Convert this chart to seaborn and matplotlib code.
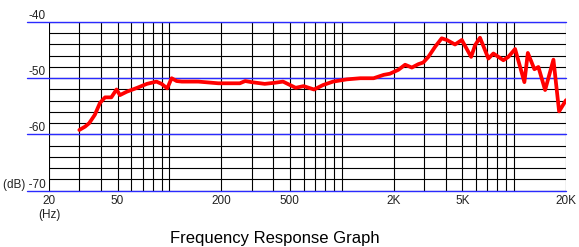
import matplotlib
matplotlib.use("Agg")
import matplotlib.pyplot as plt
import matplotlib.ticker as mticker
import seaborn as sns
import numpy as np

# frequency response (Hz, dB)
freq = [30, 32.4, 34.2, 36.9, 39.5, 42.3, 46, 49.3, 51.6, 56.5, 65, 74, 84, 90, 97,
        103, 110, 118, 147, 192, 256, 275, 300, 357, 410, 456, 540, 600, 690, 780,
        890, 1070, 1280, 1530, 1750, 1900, 2130, 2330, 2550, 2780, 2970, 3180, 3480,
        3800, 4070, 4540, 4970, 5630, 5940, 6340, 7090, 7580, 8660, 9260, 10130,
        11470, 12010, 13110, 13830, 15130, 16910, 18240, 20000]
db = [-59.2, -58.6, -58.0, -56.5, -54.4, -53.4, -53.4, -52.0, -53.0, -52.4, -51.7,
      -51.0, -50.6, -51.0, -51.8, -50.0, -50.5, -50.6, -50.6, -50.9, -50.9, -50.5,
      -50.7, -51.0, -50.8, -50.6, -51.7, -51.4, -52.0, -51.2, -50.6, -50.2, -50.0,
      -50.0, -49.4, -49.2, -48.5, -47.6, -48.1, -47.5, -47.2, -46.2, -44.4, -42.9,
      -43.2, -44.0, -43.2, -46.2, -44.1, -42.8, -46.5, -45.6, -46.8, -46.2, -44.8,
      -50.7, -45.5, -48.4, -48.0, -52.1, -46.7, -55.9, -53.9]

x_major = [20, 50, 200, 500, 2000, 5000, 20000]
x_labels = ["20\n(Hz)", "50", "200", "500", "2K", "5K", "20K"]
x_minor = [30, 40, 60, 70, 80, 90, 100, 300, 400, 600, 700, 800, 900, 1000,
           3000, 4000, 6000, 7000, 8000, 9000, 10000]
y_major = [-70, -60, -50, -40]
y_labels = ["(dB) -70", "-60", "-50", "-40"]
y_minor = [-68, -66, -64, -62, -58, -56, -54, -52, -48, -46, -44, -42]

sns.set_style("white")
plt.rcParams["font.family"] = ["Liberation Sans Narrow", "Liberation Sans", "DejaVu Sans"]

fig = plt.figure(figsize=(5.79, 2.47), dpi=100)
ax = fig.add_axes([49 / 579, 1 - 190.7 / 247, 517 / 579, 168.7 / 247])

sns.lineplot(x=freq, y=db, color="red", lw=2.7, ax=ax, zorder=5,
             solid_joinstyle="round", solid_capstyle="round")

ax.set_xscale("log")
ax.set_xlim(20, 20000)
ax.set_ylim(-70, -40)
ax.set_xticks(x_major, labels=x_labels)
ax.set_xticks(x_minor, minor=True)
ax.xaxis.set_minor_formatter(mticker.NullFormatter())
ax.set_yticks(y_major, labels=y_labels)
ax.set_yticks(y_minor, minor=True)
ax.yaxis.set_minor_formatter(mticker.NullFormatter())
ax.tick_params(which="both", length=0, labelsize=8.5, colors="#222222")
ax.tick_params(axis="x", pad=3)
ax.tick_params(axis="y", pad=2.2)
for lbl in ax.get_yticklabels():
    lbl.set_verticalalignment("bottom")
ax.set_xlabel("")
ax.set_ylabel("")

ax.grid(which="both", color="black", lw=0.8, zorder=1)
ax.set_axisbelow(True)
for y in y_major:
    ax.axhline(y, xmin=-22 / 517, xmax=1, color="#2a2aff", lw=1.0, clip_on=False, zorder=2)
for s in ax.spines.values():
    s.set_visible(False)

fig.text(275 / 579, 1 - 242.7 / 247, "Frequency Response Graph", ha="center",
         va="baseline", fontsize=12, family=["Liberation Sans", "DejaVu Sans"], color="black")

fig.savefig("out.png", dpi=100)
